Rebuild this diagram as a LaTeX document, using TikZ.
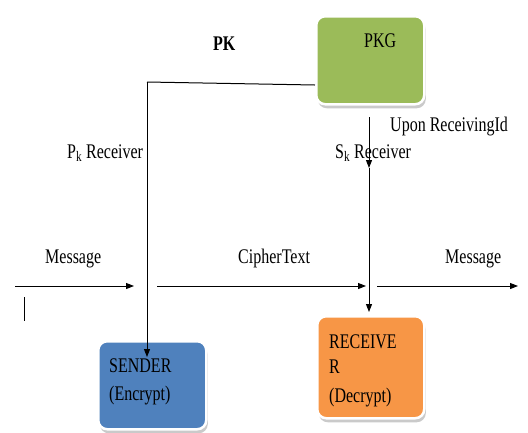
\documentclass[tikz,border=0pt]{standalone}
\usepackage{fontspec}
\setmainfont{Liberation Serif}
\usetikzlibrary{arrows.meta,shadows}
\newcommand\vst[1]{\scalebox{1}[1.3]{#1}}
\begin{document}
\begin{tikzpicture}[x=1pt,y=-1pt,
  box/.style={draw=white,line width=2.5pt,rounded corners=9pt,
    drop shadow={shadow xshift=1.5pt,shadow yshift=-4pt,fill=black!35,opacity=0.6}},
  lbl/.style={inner sep=0pt,anchor=base west,font=\fontsize{16}{18}\selectfont},
  conn/.style={line width=1pt,-{Triangle[length=8pt,width=6pt]}},
  plain/.style={line width=1pt}]
\useasboundingbox (0,0) rectangle (528,432);
% boxes
\node[box,fill={rgb,255:red,155;green,187;blue,89},minimum width=108pt,minimum height=88pt,anchor=north west] (pkg) at (315,15) {};
\node[box,fill={rgb,255:red,79;green,129;blue,189},minimum width=108pt,minimum height=88pt,anchor=north west] (sender) at (97,340) {};
\node[box,fill={rgb,255:red,247;green,150;blue,70},minimum width=107pt,minimum height=102pt,anchor=north west] (recv) at (316,315) {};
% texts
\node[lbl] (pkgt) at (364,47) {\vst{PKG}};
\node[lbl,font=\fontsize{16}{18}\selectfont\bfseries] (pk) at (213,50) {\vst{PK}};
\node[lbl] (upon) at (390,131) {\vst{Upon ReceivingId}};
\node[lbl] (pkr) at (67,158) {\vst{P\textsubscript{k} Receiver}};
\node[lbl] (skr) at (335,158) {\vst{S\textsubscript{k} Receiver}};
\node[lbl] (m1) at (45,263) {\vst{Message}};
\node[lbl] (ct) at (238,263) {\vst{CipherText}};
\node[lbl] (m2) at (445,263) {\vst{Message}};
\node[lbl] (st1) at (109,372) {\vst{SENDER}};
\node[lbl] (st2) at (109,400) {\vst{(Encrypt)}};
\node[lbl] (rt1) at (329,348) {\vst{RECEIVE}};
\node[lbl] (rt2) at (329,373) {\vst{R}};
\node[lbl] (rt3) at (329,402) {\vst{(Decrypt)}};
% connector points
\coordinate (pkw) at (315,85);
\coordinate (corner) at (147,82);
\coordinate (sin) at (147,357);
\coordinate (sk0) at (369,117);
\coordinate (sk1) at (369,168);
\coordinate (sk2) at (369,312);
\coordinate (a0) at (15,286);
\coordinate (a1) at (134,286);
\coordinate (b0) at (157,286);
\coordinate (b1) at (366,286);
\coordinate (c0) at (377,286);
\coordinate (c1) at (518,286);
\coordinate (t0) at (24,297);
\coordinate (t1) at (24,321);
% connectors
\draw[plain] (pkw) -- (corner);
\draw[conn] (corner) -- (sin);
\draw[conn] (sk0) -- (sk1);
\draw[conn] (sk1) -- (sk2);
\draw[conn] (a0) -- (a1);
\draw[conn] (b0) -- (b1);
\draw[conn] (c0) -- (c1);
\draw[plain] (t0) -- (t1);
\end{tikzpicture}
\end{document}
